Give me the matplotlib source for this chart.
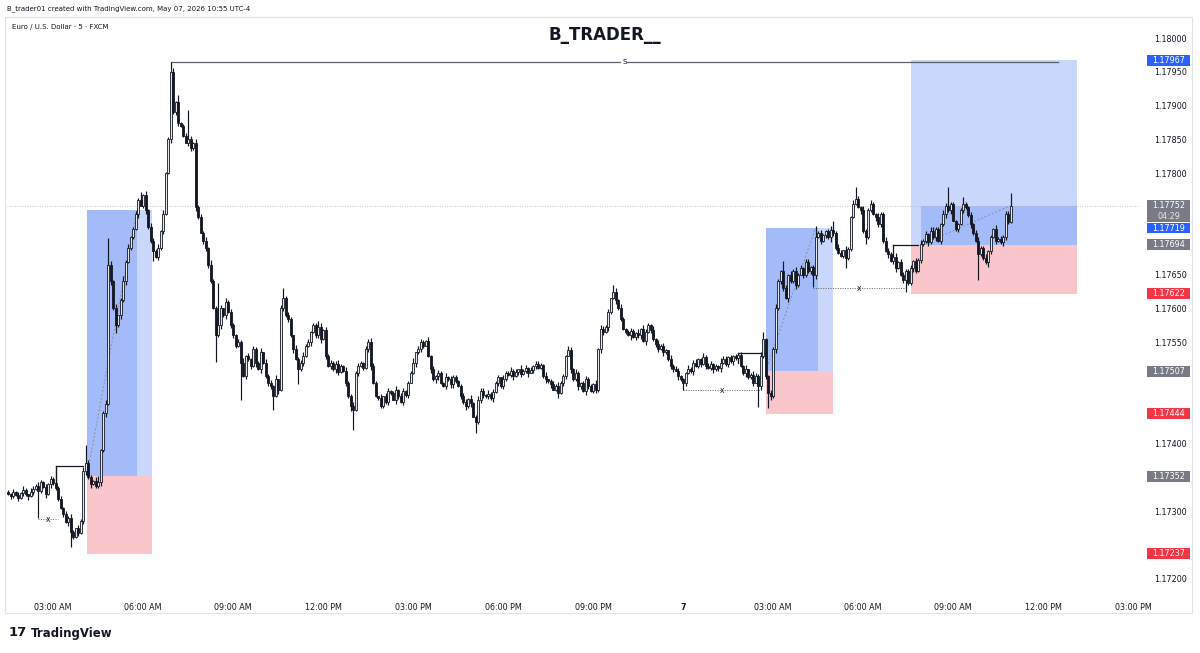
import matplotlib
matplotlib.use("Agg")
import matplotlib.pyplot as plt
import matplotlib.transforms as mtransforms
from matplotlib.patches import Rectangle
import numpy as np

# EUR/USD 5 min candles, prices stored in points above 1.17000
base = 1.17
first_open = 328
close_pts = [
    326, 322, 328, 324, 320, 327, 331, 325, 322, 329, 333,
    338, 330, 344, 336, 326, 340, 348, 342, 335,
    318, 305, 296, 284, 290, 270, 262, 275, 268, 285,
    360, 372, 350, 340, 345, 338, 344,
    390, 445, 458, 665,
    640, 600, 575, 590, 612,
    640, 668, 690, 705, 718, 740,
    760, 752, 768,
    745, 720, 700, 685, 676, 690,
    715, 740, 800, 850, 950, 890,
    905, 875, 870,
    855, 845, 850, 838, 845,
    750, 735, 712, 700,
    690, 665, 640,
    600, 560, 575,
    600, 590, 610, 595,
    575, 560, 545, 550,
    520, 500, 530,
    525, 515, 540, 520, 510, 535,
    520, 500, 490, 485, 470, 495, 480,
    600, 615, 590,
    585, 560, 540, 525, 510,
    520, 530, 545, 550,
    565, 575, 560, 572, 555, 568,
    530, 515,
    520, 510, 518, 506, 515, 508,
    490, 470, 455, 450,
    505, 515, 520, 512,
    540, 550,
    515, 490, 470,
    468, 455, 470, 462, 478,
    475, 465, 480, 470, 462, 478, 472,
    490, 505,
    520, 535, 540, 550, 545, 552,
    530, 510, 495, 500,
    505, 490, 485, 498,
    495, 488, 498, 492, 485,
    470, 462, 455,
    466, 460,
    440, 432,
    465, 478, 472,
    470, 474, 468, 476,
    490, 498, 485, 495,
    505, 502, 508, 500, 506, 510, 503, 508, 512, 505, 509,
    515, 518, 512, 516,
    500, 495, 492,
    488, 480, 485, 475,
    490, 500,
    530, 538, 510,
    495, 505, 485, 490, 478, 495,
    485, 478, 488, 480,
    540,
    570, 565, 572,
    595, 615,
    625, 612,
    600, 585, 570, 565,
    560, 566, 558, 563, 560,
    570, 552, 565,
    575, 568,
    555, 548, 540, 545, 535, 538,
    525, 515, 510, 508,
    500, 495, 490,
    505, 510, 508,
    520, 515, 525, 518, 528, 515,
    512, 518, 510, 515, 512,
    520, 525, 518, 528, 522,
    530, 526, 531,
    515, 505, 510, 498, 502,
    490, 500, 485,
    530, 555,
    500, 475, 470,
    540, 600,
    640, 655,
    630, 615, 650,
    640, 655, 635, 650,
    660, 650, 668, 655, 662, 650,
    705,
    712, 700, 708, 715, 705,
    716, 712,
    690, 682, 678, 686, 675, 688,
    735, 755,
    762, 750, 745,
    715, 705,
    745, 755, 740,
    735, 725, 740,
    700, 685, 680,
    670, 676, 660, 668,
    650, 642, 655, 638,
    660, 670, 655, 672,
    695, 700,
    710, 698, 715, 705, 718, 700,
    725, 740,
    752, 745, 755,
    730, 718, 725,
    745, 755, 750,
    738, 725, 712,
    700, 680, 690,
    675, 668, 685,
    705, 718, 700,
    702, 698, 706,
    740, 728, 752,
]

# wick lengths (points) above / below the body
wick_up = [int(ch) for ch in (
    "3152426315 4263152436 2514362153 6243158246 3526148352 "
    "2436152643 5162435261 3425163425 1634251634 4253614253 "
    "2615342615 3452163452 5134261534 2463152463 4315264315 "
    "1542361542 3261453261 5243162543 2354162354 4162534162 "
    "3524163524 1453261453 6231452631 2543162543 4135262135 "
    "3261543261 5342163542 2163452163 4523164523 1354261354 "
    "3642153642 2415362415 5136242136 3254163254 4162353162 "
    "2543162543 3415263415 5231642231 1463251463 3524163524 42"
).replace(" ", "")]
wick_dn = [int(ch) for ch in (
    "2431524361 5243162534 3152643152 4625134625 1534263514 "
    "3261452361 4352163452 2145362145 5314263514 3426152426 "
    "1623543162 4352614352 2514362514 3641253641 5132462132 "
    "2453164253 4126354126 3562143562 1435261435 5243614243 "
    "2361542361 4512363512 3254162254 1642353642 5316242316 "
    "2435162435 4163254163 3524613524 1352462352 5241363241 "
    "2634152634 4153264153 3426152426 5312463312 1645232645 "
    "3251462251 4362153362 2514362514 5143263143 3265142265 31"
).replace(" ", "")]

# notable highs / lows (bar index: points)
high_pts = {19: 367, 31: 398, 40: 704, 53: 772, 65: 965, 68: 915, 72: 894,
            84: 638, 110: 630, 124: 582, 144: 555, 224: 545, 242: 635,
            292: 534, 302: 565, 310: 670, 323: 722, 330: 730, 339: 780,
            376: 780, 382: 765, 401: 771}
low_pts = {12: 290, 25: 247, 43: 564, 58: 670, 83: 521, 93: 465, 106: 450,
           116: 488, 138: 420, 187: 416, 220: 468, 270: 479, 300: 454,
           304: 453, 322: 631, 335: 660, 343: 695, 359: 625, 388: 642}

# long position tools
pos_start = [31.5, 303.0, 361.0]
pos_end = [57.5, 330.0, 427.5]
pos_entry = [352, 507, 694]
pos_target = [745, 719, 967]
pos_stop = [237, 444, 622]
pos_run_from = [31.5, 303.0, 365.0]
pos_run_to = [51.5, 324.0, 427.5]
pos_run_top = [745, 719, 752]
pos_path_end = [51.5, 323.0, 401.0]

# structure breaks and sweeps
bos_start = [19, 292, 354]
bos_end = [30, 303, 364]
bos_level = [367, 534, 694]
bos_low = [335, 519, 675]
sweep_start = [12, 270, 322]
sweep_end = [20, 301, 359]
sweep_level = [288, 479, 630]

s_level = 965
s_start, s_end = 65, 420

badge_pts = [967, 752, 719, 694, 622, 507, 444, 352, 237]
badge_kind = ["blue", "gray", "blue", "gray", "red", "gray", "red", "gray", "red"]

time_ticks = [18, 54, 90, 126, 162, 198, 234, 270, 306, 342, 378, 414, 450]
time_labels = ["03:00 AM", "06:00 AM", "09:00 AM", "12:00 PM", "03:00 PM",
               "06:00 PM", "09:00 PM", "7", "03:00 AM", "06:00 AM",
               "09:00 AM", "12:00 PM", "03:00 PM"]


def px(p):
    return base + np.asarray(p) * 1e-5


c = np.array(close_pts, dtype=float)
o = np.concatenate([[first_open], c[:-1]])
hi = np.maximum(o, c) + np.array(wick_up)
lo = np.minimum(o, c) - np.array(wick_dn)
for k, v in high_pts.items():
    hi[k] = v
for k, v in low_pts.items():
    lo[k] = v
idx = np.arange(len(c))

W, H = 1200, 653
fig = plt.figure(figsize=(W / 100, H / 100), dpi=100)
ax = fig.add_axes([7 / W, 1 - 592 / H, (1140 - 7) / W, (592 - 22) / H])
ax.set_xlim(-0.4, 452.8)
ax.set_ylim(1.171806, 1.180237)
for s in ax.spines.values():
    s.set_visible(False)

blue_lt = "#c9d7fd"
blue_dk = "#a3bbf9"
red_lt = "#fac6cb"

for i in range(3):
    x0, x1 = pos_start[i], pos_end[i]
    ax.add_patch(Rectangle((x0, px(pos_entry[i])), x1 - x0,
                           px(pos_target[i]) - px(pos_entry[i]),
                           fc=blue_lt, ec="none", zorder=1))
    ax.add_patch(Rectangle((x0, px(pos_stop[i])), x1 - x0,
                           px(pos_entry[i]) - px(pos_stop[i]),
                           fc=red_lt, ec="none", zorder=1))
    ax.add_patch(Rectangle((pos_run_from[i], px(pos_entry[i])),
                           pos_run_to[i] - pos_run_from[i],
                           px(pos_run_top[i]) - px(pos_entry[i]),
                           fc=blue_dk, ec="none", zorder=1.1))
    ax.plot([pos_run_from[i], pos_path_end[i]],
            [px(pos_entry[i]), px(pos_run_top[i])],
            color="#8c8f99", lw=0.7, ls=(0, (2, 2)), zorder=1.2)

# current price line
ax.axhline(px(close_pts[-1]), color="#b2b5be", lw=0.6, ls=(0, (1, 2)), zorder=1.5)

# S level
ax.plot([s_start, s_end], [px(s_level)] * 2, color="#5d606b", lw=0.9, zorder=2)
ax.text((s_start + s_end) / 2 + 4, px(s_level), "S", fontsize=5, ha="center",
        va="center", color="#131722",
        bbox=dict(boxstyle="square,pad=0.15", fc="white", ec="none"), zorder=2.1)

for i in range(3):
    ax.plot([bos_start[i], bos_end[i]], [px(bos_level[i])] * 2,
            color="#131722", lw=0.9, zorder=2)
    ax.plot([bos_start[i], bos_start[i]], [px(bos_low[i]), px(bos_level[i])],
            color="#131722", lw=0.9, zorder=2)
    ax.plot([sweep_start[i], sweep_end[i]], [px(sweep_level[i])] * 2,
            color="#5d606b", lw=0.7, ls=(0, (1, 1.5)), zorder=2)
    ax.text((sweep_start[i] + sweep_end[i]) / 2, px(sweep_level[i]), "x",
            fontsize=5.5, ha="center", va="center", color="#131722", zorder=2.1)

# candles
up = c >= o
ax.vlines(idx, px(lo), px(hi), color="#131722", lw=0.85, zorder=3)
ax.bar(idx[up], px(c[up]) - px(o[up]), bottom=px(o[up]), width=0.8,
       color="#e6e6e6", edgecolor="#131722", linewidth=0.6, zorder=4)
ax.bar(idx[~up], px(o[~up]) - px(c[~up]), bottom=px(c[~up]), width=0.8,
       color="#131722", edgecolor="#131722", linewidth=0.6, zorder=4)

# price scale: tick labels that sit under a badge are left out
ax.yaxis.tick_right()
yt = np.arange(1.172, 1.18001, 0.0005)
ax.set_yticks(yt)
ylabels = []
for v in yt:
    near = min(abs(v - px(b)) for b in badge_pts)
    ylabels.append("" if near < 13.5e-5 else f"{v:.5f}")
ax.set_yticklabels(ylabels)
ax.tick_params(axis="y", length=0, pad=10, labelsize=5.8, labelcolor="#131722")
ax.set_xticks(time_ticks)
ax.set_xticklabels(time_labels)
ax.tick_params(axis="x", length=0, pad=8, labelsize=5.8, labelcolor="#131722")
ax.get_xticklabels()[7].set_fontweight("bold")

# price badges
badge_colors = {"blue": "#2962ff", "gray": "#787b86", "red": "#f23645"}
trans = mtransforms.blended_transform_factory(ax.transAxes, ax.transData)
bx = 1 + 7 / 1133
bw = 43 / 1133
bh = 11 * 1.4787e-5
for p, k in zip(badge_pts, badge_kind):
    y = px(p)
    h = bh * 2 if p == close_pts[-1] else bh
    ax.add_patch(Rectangle((bx, y + bh / 2 - h), bw, h, transform=trans,
                           fc=badge_colors[k], ec="none", clip_on=False, zorder=10))
    ax.text(bx + bw / 2, y, f"{px(p):.5f}", transform=trans, ha="center",
            va="center", fontsize=5.8, color="white", zorder=11, clip_on=False)
    if p == close_pts[-1]:
        ax.text(bx + bw / 2, y - bh, "04:29", transform=trans, ha="center",
                va="center", fontsize=5.8, color="#e8e8e8", zorder=11, clip_on=False)

# header and frame
fig.add_artist(Rectangle((5 / W, 1 - 613 / H), 1187 / W, 596 / H,
                         transform=fig.transFigure, fill=False,
                         ec="#e0e3eb", lw=0.8))
fig.text(7 / W, 1 - 9 / H, "B_trader01 created with TradingView.com, May 07, 2026 10:55 UTC-4",
         fontsize=5, va="center", color="#131722")
fig.text(12 / W, 1 - 27 / H, "Euro / U.S. Dollar · 5 · FXCM", fontsize=5,
         va="center", color="#131722")
fig.text(605 / W, 1 - 35 / H, "B_TRADER__", fontsize=12, fontweight="bold",
         ha="center", va="center", color="#131722")
fig.text(9 / W, 1 - 633 / H, "17", fontsize=9.5, fontweight="heavy",
         va="center", color="#131722")
fig.text(31 / W, 1 - 633 / H, "TradingView", fontsize=8.5, fontweight="bold",
         va="center", color="#131722")

fig.savefig("out.png", dpi=100)
